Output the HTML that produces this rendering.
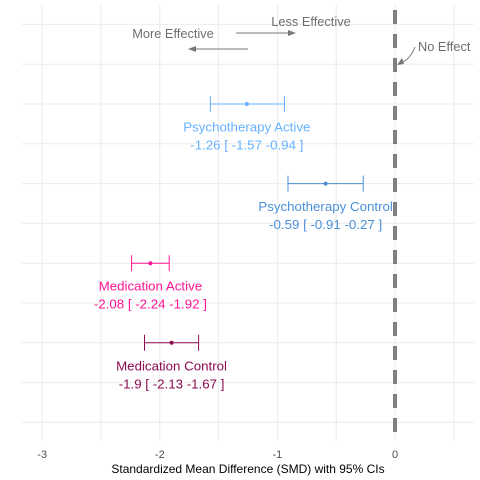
<!DOCTYPE html>
<html><head><meta charset="utf-8"><style>
html,body{margin:0;padding:0;background:#fff}
svg{display:block;font-family:"Liberation Sans",sans-serif}
</style></head><body>
<svg id="chart" width="480" height="480" viewBox="0 0 480 480">
<g id="grid"></g>
<g id="marks"></g>
<g id="ann">
  <text x="311" y="26" font-size="12.8" fill="#6e6e6e" text-anchor="middle">Less Effective</text>
  <line x1="236" y1="33" x2="290" y2="33" stroke="#777" stroke-width="1"/>
  <polygon points="296,33 288,30 288,36" fill="#777"/>
  <text x="173" y="38" font-size="12.8" fill="#6e6e6e" text-anchor="middle">More Effective</text>
  <line x1="248" y1="49" x2="194" y2="49" stroke="#777" stroke-width="1"/>
  <polygon points="188,49 196,46 196,52" fill="#777"/>
  <text x="418" y="51" font-size="12.8" fill="#6e6e6e">No Effect</text>
  <path d="M415,47 Q410,60 400,63" fill="none" stroke="#777" stroke-width="1"/>
  <polygon points="397,65 402,58 404,64" fill="#777"/>
</g>
<g id="axis"></g>
<text x="248" y="473" font-size="12" fill="#000" text-anchor="middle">Standardized Mean Difference (SMD) with 95% CIs</text>
</svg>
<script>
const categories = ["Psychotherapy Active","Psychotherapy Control","Medication Active","Medication Control"];
const smd = [-1.26,-0.59,-2.08,-1.9];
const lower = [-1.57,-0.91,-2.24,-2.13];
const upper = [-0.94,-0.27,-1.92,-1.67];
const valueLabels = ["-1.26 [ -1.57 -0.94 ]","-0.59 [ -0.91 -0.27 ]","-2.08 [ -2.24 -1.92 ]","-1.9 [ -2.13 -1.67 ]"];
const colors = ["#66b2ff","#4a90d9","#ff1493","#8b0a50"];
const xTicks = [-3,-2,-1,0];
const xGrid = [-3,-2.5,-2,-1.5,-1,-0.5,0,0.5];

const NS="http://www.w3.org/2000/svg";
const X0=22,X1=474,Y0=5,Y1=441;
function xs(v){return 395+v*117.6;}
function ys(i){return 104+i*79.6;}
function mk(tag,attrs,parent){const e=document.createElementNS(NS,tag);for(const k in attrs)e.setAttribute(k,attrs[k]);parent.appendChild(e);return e;}
const grid=document.getElementById('grid'),marks=document.getElementById('marks'),axis=document.getElementById('axis');
xGrid.forEach(v=>{const l=mk('line',{x1:xs(v),x2:xs(v),y1:Y0,y2:Y1,stroke:'#ebebeb','stroke-width':1},grid);

});
for(let k=-2;k<=8;k++){const y=ys(0)+k*39.8;if(y<Y0||y>Y1)continue;const l=mk('line',{x1:X0,x2:X1,y1:y,y2:y,stroke:'#ebebeb','stroke-width':1},grid);

}
const zl=mk('line',{x1:xs(0),x2:xs(0),y1:10,y2:Y1,stroke:'#808080','stroke-width':4,'stroke-dasharray':'14,10'},grid);


categories.forEach((c,i)=>{
  const y=ys(i),col=colors[i];
  const g=mk('g',{},marks);
  
  
  mk('line',{x1:xs(lower[i]),x2:xs(upper[i]),y1:y,y2:y,stroke:col,'stroke-width':1},g);
  mk('line',{x1:xs(lower[i]),x2:xs(lower[i]),y1:y-8,y2:y+8,stroke:col,'stroke-width':1},g);
  mk('line',{x1:xs(upper[i]),x2:xs(upper[i]),y1:y-8,y2:y+8,stroke:col,'stroke-width':1},g);
  const p=mk('circle',{cx:xs(smd[i]),cy:y,r:2,fill:col},g);
  
  
  const t1=mk('text',{x:xs(smd[i]),y:y+27.5,'font-size':13.3,fill:col,'text-anchor':'middle'},g);
  t1.textContent=c;
  
  
  const t2=mk('text',{x:xs(smd[i]),y:y+45.5,'font-size':13.3,fill:col,'text-anchor':'middle'},g);
  t2.textContent=valueLabels[i];
  
  
});
xTicks.forEach(v=>{const t=mk('text',{x:xs(v),y:458,'font-size':11,fill:'#4d4d4d','text-anchor':'middle'},axis);t.textContent=String(v);

});
</script>
</body></html>
